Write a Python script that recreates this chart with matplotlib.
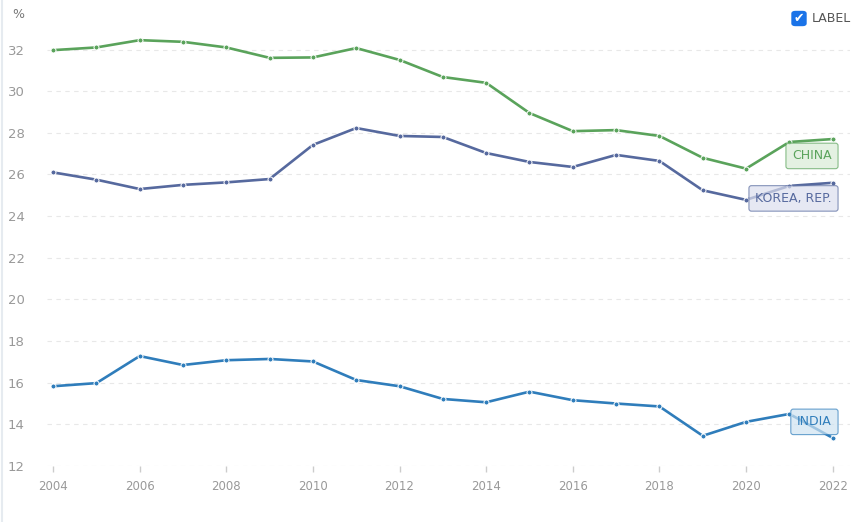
import numpy as np
import matplotlib.pyplot as plt
from matplotlib.patches import FancyBboxPatch

years = list(range(2004, 2023))

china = [31.97, 32.1, 32.45, 32.37, 32.1, 31.6, 31.62, 32.07, 31.5, 30.68,
         30.4, 28.95, 28.08, 28.13, 27.85, 26.8, 26.28, 27.56, 27.7]
korea = [26.1, 25.75, 25.3, 25.5, 25.62, 25.78, 27.42, 28.23, 27.85, 27.8,
         27.03, 26.6, 26.36, 26.94, 26.65, 25.24, 24.78, 25.45, 25.6]
india = [15.83, 15.98, 17.28, 16.85, 17.08, 17.14, 17.02, 16.13, 15.83, 15.22,
         15.06, 15.57, 15.16, 15.0, 14.86, 13.45, 14.12, 14.5, 13.35]

names = ['CHINA', 'KOREA, REP.', 'INDIA']
colors = ['#5aa35b', '#56699e', '#2f7dbb']
faces = ['#d9ecd6', '#dcdfee', '#cfe3f1']

fig = plt.figure(figsize=(8.64, 5.22), dpi=100)
ax = fig.add_axes([47/864, 56/522, 803/864, 437.3/522])

for vals, c in zip([china, korea, india], colors):
    ax.plot(years, vals, color=c, linewidth=1.9, marker='o', markersize=3.6,
            markeredgecolor='white', markeredgewidth=0.7, zorder=3)

ax.set_xlim(2003.86, 2022.4)
ax.set_ylim(12, 33)
ax.set_xticks(range(2004, 2023, 2))
ax.set_yticks(range(12, 33, 2))
ax.grid(axis='y', color='#e8e8e8', linestyle=(0, (4, 4)), linewidth=0.8)
ax.set_axisbelow(True)
for s in ax.spines.values():
    s.set_visible(False)
ax.tick_params(axis='x', colors='#cccccc', length=4, width=1, labelcolor='#999999',
               labelsize=8.5, pad=6)
ax.tick_params(axis='y', length=0, labelcolor='#999999', labelsize=9.5, pad=16)

fig.text(12/864, 1 - 14/522, '%', color='#777777', fontsize=9, va='center')

# series labels at the right end
label_y = [26.89, 24.85, 14.12]
for name, c, f, yv in zip(names, colors, faces, label_y):
    ax.text(2021.98, yv, name, color=c, fontsize=9, ha='right', va='center', zorder=5,
            bbox=dict(boxstyle='round,pad=0.5,rounding_size=0.2', facecolor=f,
                      edgecolor=c, linewidth=0.8, alpha=0.7))

# checkbox legend
box = FancyBboxPatch((792/864, 1 - 25.5/522), 14/864, 14/522,
                     boxstyle='round,pad=0,rounding_size=0.004',
                     transform=fig.transFigure, facecolor='#1a73e8', edgecolor='#1a73e8')
fig.patches.append(box)
fig.text(799/864, 1 - 18.5/522, '\u2714', color='white', fontsize=9,
         ha='center', va='center')
fig.text(812/864, 1 - 18.5/522, 'LABEL', color='#555555', fontsize=9, va='center')

fig.add_artist(plt.Line2D([1.5/864, 1.5/864], [0, 1], color='#e6ebf0', linewidth=1.5))

fig.savefig('out.png', dpi=100)
